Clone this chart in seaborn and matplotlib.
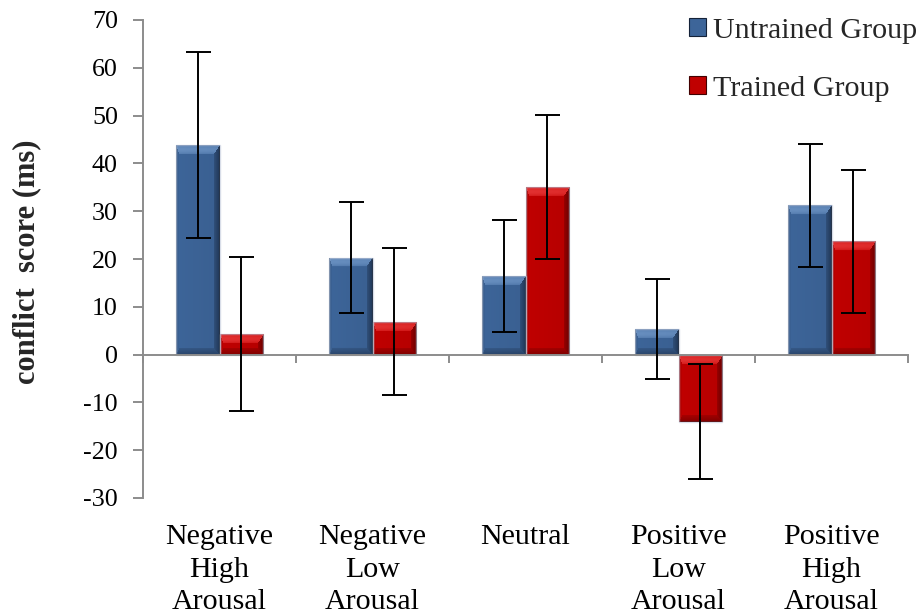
import numpy as np
import pandas as pd
import matplotlib
matplotlib.use("Agg")
import matplotlib.pyplot as plt
from matplotlib.colors import to_rgb
from matplotlib.patches import Patch
import seaborn as sns

# Conflict scores (ms) per emotional condition, mean and error half-width
conditions = ["Negative\nHigh\nArousal", "Negative\nLow\nArousal", "Neutral",
              "Positive\nLow\nArousal", "Positive\nHigh\nArousal"]
groups = ["Untrained Group", "Trained Group"]
untrained_mean = [43.9, 20.3, 16.5, 5.4, 31.2]
untrained_err = [19.5, 11.7, 11.7, 10.4, 12.9]
trained_mean = [4.3, 6.9, 35.1, -14.0, 23.7]
trained_err = [16.2, 15.4, 15.1, 12.0, 15.0]
y_ticks = [-30, -20, -10, 0, 10, 20, 30, 40, 50, 60, 70]

sns.set_style("white")
plt.rcParams["font.family"] = ["Liberation Serif", "DejaVu Serif"]
plt.rcParams["axes.unicode_minus"] = False

df = pd.DataFrame({
    "condition": conditions * 2,
    "group": [groups[0]] * 5 + [groups[1]] * 5,
    "score": untrained_mean + trained_mean,
})
errs = {groups[0]: untrained_err, groups[1]: trained_err}

# face colour, highlight, shadow for each group
tones = {
    groups[0]: ("#3D6599", "#8AB0DE", "#142238"),
    groups[1]: ("#C00000", "#FF5A5A", "#420000"),
}

fig = plt.figure(figsize=(9.22, 6.15), dpi=100)
W_PX, H_PX = 922, 615
ax = fig.add_axes([143 / W_PX, 1 - 498 / H_PX, 765 / W_PX, 478 / H_PX])

sns.barplot(data=df, x="condition", y="score", hue="group", hue_order=groups,
            palette={g: tones[g][0] for g in groups}, width=0.575,
            errorbar=None, legend=False, ax=ax, linewidth=0, saturation=1)

ax.set_xlim(-0.5, 4.5)
ax.set_ylim(-30, 70)


def bevel_image(w_px, h_px, base, light, dark):
    """Bevelled bar face: lit top edge, shaded right and bottom edges."""
    H = max(int(round(h_px)), 2)
    W = max(int(round(w_px)), 2)
    r = np.arange(H)[:, None] * np.ones((1, W))
    c = np.ones((H, 1)) * np.arange(W)[None, :]
    sizes = np.array([9.0, 7.0, 3.0, 6.0])  # top, bottom, left, right
    sizes = np.minimum(sizes, [H / 2.0, H / 2.0, W / 2.0, W / 2.0])
    dist = np.stack([r, H - 1 - r, c, W - 1 - c])
    rel = dist / sizes[:, None, None]
    face = rel.argmin(axis=0)
    relmin = rel.min(axis=0)
    strength = np.array([0.55, -0.45, -0.12, -0.6])[face]
    ramp = np.clip(1 - relmin, 0, 1)
    shade = np.where(relmin < 1, strength * (0.35 + 0.65 * ramp), 0.0)
    # top face is lit most strongly just below its upper edge
    top = (face == 0) & (relmin < 1)
    shade = np.where(top, 0.55 * (0.5 + 0.5 * np.sin(np.pi * (1 - relmin) * 0.9)), shade)
    # slight left-to-right darkening across the face
    shade = shade - 0.08 * (c / max(W - 1, 1))
    dmin = dist.min(axis=0)
    shade = np.where(dmin < 1, shade - 0.3, shade)
    base, light, dark = (np.array(to_rgb(x)) for x in (base, light, dark))
    pos = np.clip(shade, 0, 1)[..., None]
    neg = np.clip(-shade, 0, 1)[..., None]
    return np.clip(base + pos * (light - base) + neg * (dark - base), 0, 1)


fig.canvas.draw()
for container, g in zip(ax.containers, groups):
    base, light, dark = tones[g]
    xs = []
    for patch in container:
        x0, y0 = patch.get_x(), patch.get_y()
        w, h = patch.get_width(), patch.get_height()
        lo, hi = min(y0, y0 + h), max(y0, y0 + h)
        (px0, py0), (px1, py1) = ax.transData.transform([(x0, lo), (x0 + w, hi)])
        img = bevel_image(px1 - px0, py1 - py0, base, light, dark)
        im = ax.imshow(img, extent=(x0, x0 + w, lo, hi), origin="upper",
                       aspect="auto", interpolation="bilinear", zorder=2)
        im.set_clip_path(patch)
        patch.set_edgecolor((0.75, 0.78, 0.85, 0.6))
        patch.set_linewidth(1.0)
        patch.set_zorder(2.5)
        patch.set_facecolor("none")
        xs.append(x0 + w / 2)
    vals = df.loc[df["group"] == g, "score"].to_numpy()
    ax.errorbar(xs, vals, yerr=errs[g], fmt="none", ecolor="black",
                elinewidth=1.4, capsize=9, capthick=1.4, zorder=5)

ax.set_xlim(-0.5, 4.5)
ax.set_ylim(-30, 70)
ax.set_aspect("auto")

# axes styling: y axis on the left, x axis line through zero
axis_grey = "#8C8C8C"
for side in ["top", "right"]:
    ax.spines[side].set_visible(False)
ax.spines["left"].set_color(axis_grey)
ax.spines["left"].set_linewidth(1.4)
ax.spines["bottom"].set_color(axis_grey)
ax.spines["bottom"].set_linewidth(1.4)
ax.spines["bottom"].set_position(("data", 0))
ax.spines["bottom"].set_zorder(3)

ax.set_yticks(y_ticks)
ax.set_yticklabels([str(v) for v in y_ticks])
ax.tick_params(axis="y", direction="out", length=7, width=1.4, color=axis_grey,
               labelsize=18.7, pad=11, labelcolor="black", left=True)
ax.set_xticks(np.arange(-0.5, 5.0, 1.0))
ax.set_xticklabels([])
ax.tick_params(axis="x", direction="out", length=6, width=1.4, color=axis_grey,
               bottom=True)
ax.set_xlabel("")
ax.set_ylabel("")

for i, lab in enumerate(conditions):
    ax.text(i, -0.055, lab, transform=ax.get_xaxis_transform(), ha="center",
            va="top", fontsize=21.6, linespacing=1.33, color="black")

fig.text(27 / W_PX, 1 - 262 / H_PX, "conflict  score (ms)", rotation=90,
         ha="center", va="center", fontsize=22, fontweight="bold")

handles = [Patch(facecolor=tones[g][0], edgecolor=tones[g][2], linewidth=0.8)
           for g in groups]
fig.legend(handles, groups, loc="upper left", bbox_to_anchor=(689 / W_PX, 1 - 18 / H_PX),
           frameon=False, fontsize=21.6, handlelength=0.55, handleheight=0.55,
           handletextpad=0.25, labelspacing=1.05, borderpad=0, borderaxespad=0)

fig.savefig("out.png", dpi=100)
